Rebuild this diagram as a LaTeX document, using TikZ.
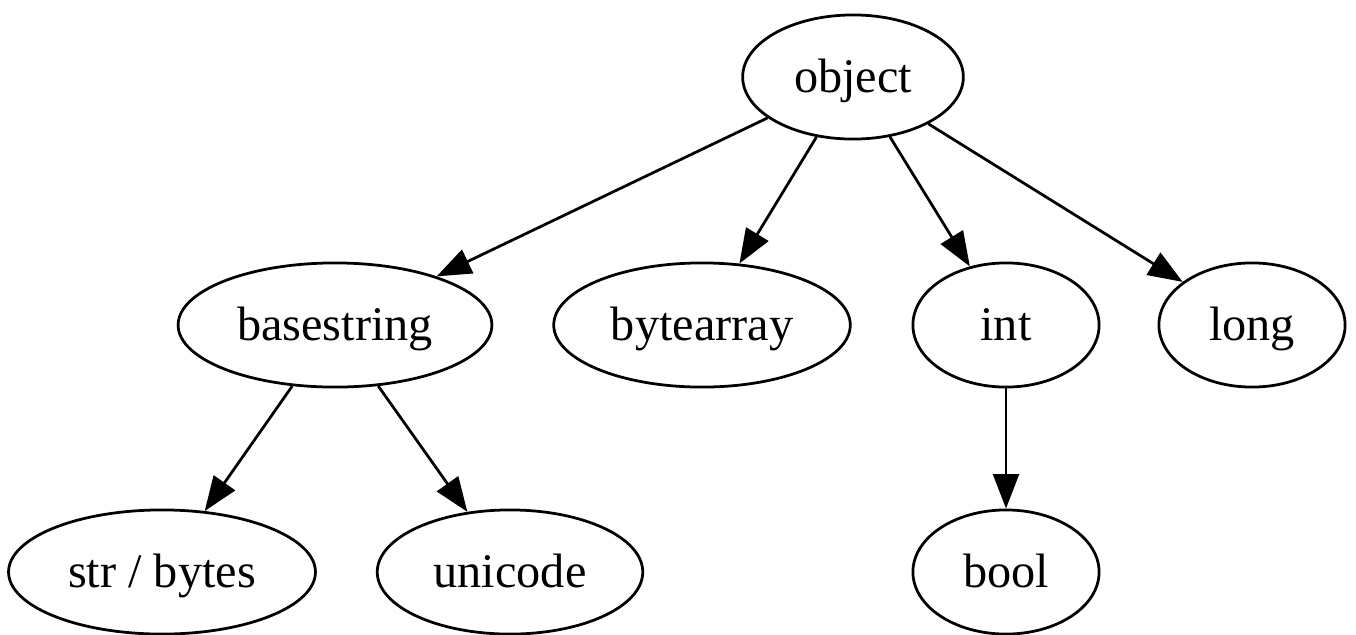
\documentclass[tikz,border=0pt]{standalone}
\usepackage{fontspec}
\setmainfont{Liberation Serif}
\usetikzlibrary{shapes.geometric, arrows.meta}

\tikzset{
  cls/.style={draw, ellipse, line width=0.8pt, inner sep=0pt, minimum height=36pt,
    text height=12pt, text depth=2.8pt, font=\fontsize{14pt}{16pt}\selectfont},
  inherit/.style={-{Triangle[length=10pt, width=7.5pt]}, line width=0.8pt},
}

\begin{document}
\begin{tikzpicture}[x=0.29pt, y=-0.29pt]
      \useasboundingbox (0,0) rectangle (1356,634);

      \node[cls, minimum width=64pt] (object)     at (853,77)  {object};
      \node[cls, minimum width=91pt] (basestring) at (335,325) {basestring};
      \node[cls, minimum width=86pt] (bytearray)  at (702,325) {bytearray};
      \node[cls, minimum width=54pt] (int)        at (1006,325) {int};
      \node[cls, minimum width=54pt] (long)       at (1252,325) {long};
      \node[cls, minimum width=89pt] (str)        at (162,572) {str / bytes};
      \node[cls, minimum width=77pt] (unicode)    at (510,572) {unicode};
      \node[cls, minimum width=54pt] (bool)       at (1006,572) {bool};

      \draw[inherit] (object) -- (basestring);
      \draw[inherit] (object) -- (bytearray);
      \draw[inherit] (object) -- (int);
      \draw[inherit] (object) -- (long);
      \draw[inherit] (basestring) -- (str);
      \draw[inherit] (basestring) -- (unicode);
      \draw[inherit] (int) -- (bool);
    \end{tikzpicture}
\end{document}
